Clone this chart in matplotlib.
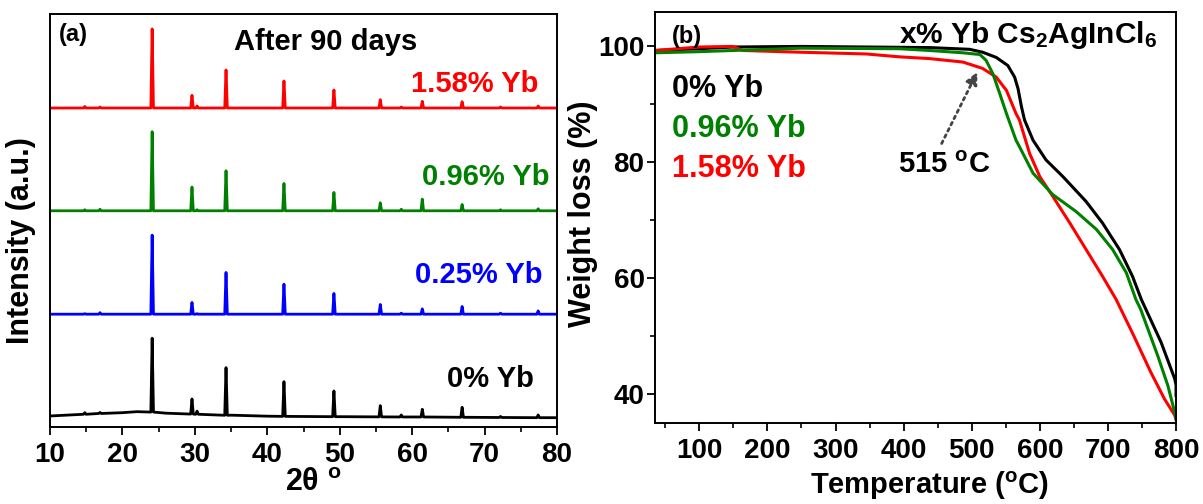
import matplotlib
matplotlib.use("Agg")
import matplotlib.pyplot as plt
import numpy as np
from matplotlib.ticker import MultipleLocator

plt.rcParams['font.family'] = ['Liberation Sans', 'DejaVu Sans']
plt.rcParams['font.weight'] = 'bold'
plt.rcParams['axes.labelweight'] = 'bold'
plt.rcParams['mathtext.default'] = 'regular'

# ---- (a) XRD after 90 days: peak positions and peak tops (a.u., above each trace baseline)
peaks = [14.8, 16.9, 24.1, 29.6, 30.3, 34.3, 42.3, 49.2, 55.6, 58.5, 61.4, 66.9, 72.2, 77.4]
top_158 = [1.5, 1.0, 79, 12.7, 2.0, 38, 27, 18, 8.3, 1.0, 6.7, 6.3, 1.0, 2.0]
top_096 = [1.0, 1.5, 79, 23.7, 1.0, 40, 27.3, 18.3, 8.0, 1.5, 11.7, 6.3, 1.0, 2.0]
top_025 = [0.5, 1.5, 79, 11.7, 0.5, 41.7, 30, 20.7, 9.7, 1.0, 5.3, 7.7, 1.0, 3.3]
top_0 = [4.0, 4.2, 78.4, 17.7, 5.5, 49, 35, 25.7, 11, 1.7, 7.4, 9.4, 0.2, 1.7]
# the undoped sample sits on a broad hump
foot_0 = [2.4, 3.2, 4.6, 2.6, 2.4, 1.4, 0.3, 0.0, -0.2, -0.3, -0.3, -0.6, -0.8, -1.0]
hump_x = [10, 20, 22, 26, 35, 40, 50, 80]
hump_y = [0.7, 4.0, 5.0, 3.5, 1.5, 0.5, 0.0, -1.0]
offsets = {'0': 0, '0.25': 102.4, '0.96': 205.7, '1.58': 308.4}

# ---- (b) TGA
t_0 = [35, 100, 150, 250, 438, 497, 516, 536, 553, 563, 568, 573, 577.5, 590, 609, 634,
       668, 692, 717, 736, 749, 778, 798, 800, 800]
w_0 = [99.3, 99.6, 99.9, 100.0, 99.8, 99.5, 99.0, 98.1, 96.7, 94.7, 92.7, 89.6, 87.3, 83.8, 80.4, 77.5,
       73.2, 69.5, 64.9, 60.3, 56.3, 48.9, 42.6, 41.5, 39.7]
t_096 = [35, 100, 150, 250, 394, 438, 487, 512, 521, 531, 541, 551, 565, 570, 590, 619,
         653, 683, 707, 727, 741, 748, 773, 788, 798, 800]
w_096 = [98.9, 99.1, 99.3, 99.7, 99.6, 99.3, 98.9, 98.6, 97.6, 95.3, 91.9, 88.4, 83.8, 82.7, 78.1, 74.4,
         71.5, 68.4, 64.9, 60.9, 56.3, 54.6, 46.6, 41.4, 36.8, 35.7]
t_158 = [35, 100, 149, 164, 248, 345, 394, 438, 487, 516, 536, 551, 565, 570, 585, 600,
         619, 644, 668, 692, 712, 738, 763, 783, 798, 800]
w_158 = [99.3, 99.9, 100.0, 99.3, 99.0, 98.7, 98.2, 97.9, 97.3, 96.2, 94.7, 92.4, 88.4, 87.3, 81.5, 77.5,
         74.1, 69.5, 64.9, 60.3, 56.3, 50.0, 43.7, 39.1, 36.3, 35.5]


def xrd_trace(tops, feet, bg_x, bg_y, hw=0.18):
    pts = list(zip(bg_x, bg_y))
    for p, h, f in zip(peaks, tops, feet):
        pts += [(p - hw, f), (p, h), (p + hw, f)]
    pts.sort()
    return [a for a, b in pts], [b for a, b in pts]


fig = plt.figure(figsize=(12.03, 5.04), dpi=100)
ax1 = fig.add_axes([0.0416, 0.1534, 0.4214, 0.819])
ax2 = fig.add_axes([0.5445, 0.1613, 0.4331, 0.8155])

zeros = [0] * len(peaks)
traces = [
    ('0', top_0, foot_0, hump_x, hump_y, 'black'),
    ('0.25', top_025, zeros, [10, 80], [0, 0], '#0000ff'),
    ('0.96', top_096, zeros, [10, 80], [0, 0], '#008000'),
    ('1.58', top_158, zeros, [10, 80], [0, 0], '#ff0000'),
]
for key, tops, feet, bx, by, col in traces:
    x, y = xrd_trace(tops, feet, bx, by)
    ax1.plot(x, np.array(y) + offsets[key], color=col, lw=2)

ax1.set_xlim(10, 80)
ax1.set_ylim(-10, 402.4)
ax1.set_yticks([])
ax1.xaxis.set_major_locator(MultipleLocator(10))
ax1.xaxis.set_minor_locator(MultipleLocator(5))
ax1.set_xlabel('2θ $^o$', fontsize=22)
ax1.xaxis.set_label_coords(0.52, -0.1)
ax1.set_ylabel('Intensity (a.u.)', fontsize=22)
ax1.yaxis.set_label_coords(-0.028, 0.45)

ax1.text(0.018, 0.934, '(a)', transform=ax1.transAxes, fontsize=17, va='baseline')
ax1.text(0.543, 0.913, 'After 90 days', transform=ax1.transAxes, fontsize=21,
         ha='center', va='baseline')
ax1.text(0.9625, 0.812, '1.58% Yb', transform=ax1.transAxes, fontsize=21,
         ha='right', va='baseline', color='#ff0000')
ax1.text(0.986, 0.586, '0.96% Yb', transform=ax1.transAxes, fontsize=21,
         ha='right', va='baseline', color='#008000')
ax1.text(0.972, 0.348, '0.25% Yb', transform=ax1.transAxes, fontsize=21,
         ha='right', va='baseline', color='#0000ff')
ax1.text(0.955, 0.097, '0% Yb', transform=ax1.transAxes, fontsize=21,
         ha='right', va='baseline', color='black')

ax2.plot(t_0, w_0, color='black', lw=2.2)
ax2.plot(t_158, w_158, color='#ff0000', lw=2.2)
ax2.plot(t_096, w_096, color='#008000', lw=2.2)
ax2.set_xlim(35, 800)
ax2.set_ylim(35, 106)
ax2.xaxis.set_major_locator(MultipleLocator(100))
ax2.xaxis.set_minor_locator(MultipleLocator(50))
ax2.yaxis.set_major_locator(MultipleLocator(20))
ax2.yaxis.set_minor_locator(MultipleLocator(10))
ax2.set_xlabel('Temperature ($^o$C)', fontsize=21)
ax2.xaxis.set_label_coords(0.527, -0.113)
ax2.set_ylabel('Weight loss (%)', fontsize=22)
ax2.yaxis.set_label_coords(-0.109, 0.508)

ax2.text(0.033, 0.923, '(b)', transform=ax2.transAxes, fontsize=17, va='baseline')
ax2.text(0.9635, 0.924, 'x% Yb Cs$_2$AgInCl$_6$', transform=ax2.transAxes, fontsize=21.5,
         ha='right', va='baseline')
ax2.text(0.033, 0.793, '0% Yb', transform=ax2.transAxes, fontsize=22, va='baseline', color='black')
ax2.text(0.033, 0.696, '0.96% Yb', transform=ax2.transAxes, fontsize=22, va='baseline', color='#008000')
ax2.text(0.033, 0.5985, '1.58% Yb', transform=ax2.transAxes, fontsize=22, va='baseline', color='#ff0000')
ax2.text(0.466, 0.6075, '515 $^o$C', transform=ax2.transAxes, fontsize=21, va='baseline')
ax2.annotate('', xy=(510, 96.0), xytext=(454, 82.8),
             arrowprops=dict(arrowstyle='-|>', color='#444444', lw=2,
                             linestyle=(0, (1, 1.5)), mutation_scale=18))

for ax in (ax1, ax2):
    for s in ax.spines.values():
        s.set_linewidth(1.4)
    ax.tick_params(which='major', direction='out', length=6, width=1.3, labelsize=20, pad=5)
    ax.tick_params(which='minor', direction='out', length=3.5, width=1.2)
ax2.tick_params(axis='y', which='major', pad=1.5)

fig.savefig('out.png', dpi=100)
